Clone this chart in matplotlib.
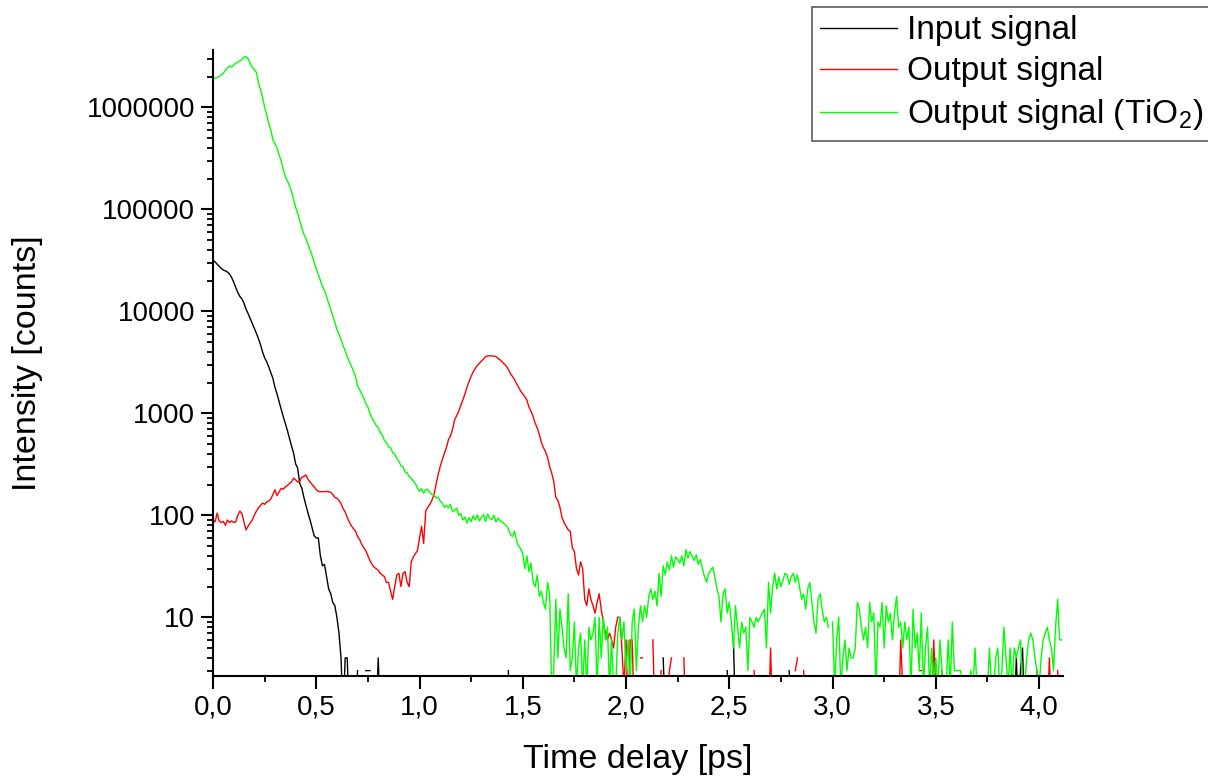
import numpy as np
import matplotlib as mpl
mpl.use('Agg')
import matplotlib.pyplot as plt
from matplotlib.ticker import FixedLocator, LogLocator, FuncFormatter, MultipleLocator, NullFormatter

plt.rcParams['font.family'] = ['Liberation Sans', 'DejaVu Sans']
plt.rcParams['mathtext.default'] = 'regular'

# sample step of the delay scan (ps)
step = 0.01

# Output signal (TiO2), counts, one row = 0.1 ps
green = [
    1900000, 1930000, 1960000, 2010000, 2080000, 2160000, 2300000, 2450000, 2540000, 2480000,
    2600000, 2700000, 2780000, 2850000, 2950000, 3100000, 3150000, 3000000, 2700000, 2450000,
    2350000, 2200000, 1750000, 1500000, 1250000, 1000000, 850000, 690000, 600000, 480000,
    440000, 400000, 340000, 300000, 245000, 210000, 190000, 170000, 150000, 125000,
    105000, 92000, 78000, 66000, 57000, 52000, 45000, 40000, 35000, 30000,
    26000, 23000, 20000, 17500, 16000, 14000, 12000, 10500, 9000, 7800,
    6600, 6000, 5300, 4600, 4100, 3600, 3200, 2900, 2600, 2300,
    1850, 1700, 1550, 1400, 1250, 1150, 1000, 900, 830, 760,
    720, 650, 610, 540, 520, 470, 460, 410, 400, 360,
    340, 305, 300, 265, 262, 238, 232, 215, 205, 185,
    172, 182, 165, 178, 180, 168, 160, 158, 148, 150,
    138, 132, 120, 125, 118, 128, 108, 112, 118, 100,
    104, 90, 96, 84, 95, 87, 99, 90, 101, 88,
    96, 102, 87, 103, 93, 91, 100, 86, 94, 88,
    86, 83, 79, 74, 65, 62, 70, 56, 50, 47,
    42, 30, 40, 28, 34, 22, 20, 26, 16, 18,
    14, 12, 22, 17, 2, 3, 15, 4, 12, 8,
    5, 4, 17, 3, 4, 9, 2, 5, 7, 2,
    6, 2, 8, 6, 7, 10, 2, 10, 4, 10,
    6, 8, 2, 6, 2, 2, 7, 10, 6, 9,
    3, 6, 2, 9, 12, 3, 8, 13, 9, 13,
    10, 16, 19, 15, 18, 13, 27, 16, 32, 26,
    35, 29, 40, 31, 39, 37, 34, 40, 32, 46,
    38, 44, 40, 36, 41, 33, 37, 30, 25, 22,
    27, 29, 31, 25, 19, 16, 9, 17, 19, 11,
    14, 9, 5, 13, 8, 5, 9, 7, 8, 3,
    10, 9, 8, 10, 9, 10, 11, 12, 5, 22,
    11, 20, 27, 19, 25, 20, 23, 27, 26, 21,
    25, 27, 22, 26, 20, 15, 17, 12, 19, 22,
    14, 9, 7, 15, 17, 12, 9, 10, 8, 0,
    9, 2, 6, 10, 2, 4, 6, 3, 5, 4,
    4, 5, 14, 12, 8, 6, 8, 5, 14, 9,
    11, 2, 9, 8, 14, 5, 13, 9, 11, 6,
    11, 16, 8, 9, 5, 9, 6, 8, 2, 12,
    5, 7, 3, 11, 2, 5, 8, 2, 5, 2,
    4, 2, 6, 3, 2, 2, 6, 2, 9, 3,
    3, 3, 3, 2, 2, 2, 2, 3, 2, 5,
    2, 2, 2, 2, 2, 2, 5, 2, 2, 4,
    5, 2, 3, 8, 4, 2, 5, 2, 5, 4,
    5, 6, 2, 2, 4, 6, 7, 6, 4, 3,
    2, 4, 6, 7, 8, 6, 5, 3, 8, 15,
    6, 6,
]

# Output signal, counts
red = [
    90, 86, 105, 88, 85, 87, 80, 90, 85, 88,
    85, 86, 100, 110, 104, 86, 72, 78, 84, 90,
    100, 110, 118, 125, 132, 128, 135, 138, 145, 160,
    178, 156, 170, 184, 180, 190, 196, 205, 212, 231,
    222, 212, 216, 236, 240, 249, 226, 212, 200, 190,
    178, 172, 170, 171, 170, 172, 170, 168, 160, 150,
    147, 140, 130, 116, 108, 95, 86, 79, 74, 70,
    62, 58, 52, 48, 45, 40, 36, 33, 31, 30,
    29, 27, 26, 25, 22, 22, 18, 15, 20, 26,
    27, 20, 27, 28, 22, 20, 35, 39, 42, 45,
    60, 78, 53, 110, 120, 128, 140, 160, 200, 250,
    300, 350, 400, 460, 550, 600, 700, 860, 950, 1050,
    1200, 1350, 1550, 1800, 2050, 2300, 2550, 2750, 2950, 3100,
    3250, 3400, 3600, 3650, 3660, 3650, 3640, 3600, 3450, 3350,
    3200, 3050, 2900, 2700, 2450, 2300, 2150, 1950, 1800, 1650,
    1550, 1450, 1350, 1150, 1050, 930, 800, 720, 620, 520,
    460, 420, 370, 300, 260, 215, 150, 140, 120, 95,
    85, 78, 72, 70, 48, 44, 30, 26, 35, 30,
    15, 13, 19, 15, 13, 11, 14, 17, 12, 9,
    7, 6, 7, 6, 5, 8, 10, 10, 5, 2,
    6, 1, 6, 6, 1, 0, 0, 4, 4, 0,
    0, 0, 0, 6, 1, 0, 1, 3, 0, 0,
    2, 3, 4, 0, 0, 0, 0, 0, 4, 1,
    0, 0, 0, 0, 0, 0, 0, 0, 0, 0,
    0, 0, 0, 0, 0, 0, 0, 0, 0, 0,
    0, 0, 0, 0, 0, 0, 0, 0, 0, 0,
    0, 0, 3, 1, 0, 0, 0, 0, 0, 1,
    5, 1, 0, 0, 0, 0, 0, 0, 0, 0,
    0, 0, 3, 4, 0, 0, 3, 1, 0, 0,
    0, 0, 0, 0, 0, 0, 0, 0, 0, 0,
    0, 0, 0, 0, 0, 0, 0, 0, 0, 0,
    0, 0, 0, 0, 0, 0, 0, 0, 0, 0,
    0, 0, 0, 0, 0, 0, 0, 0, 0, 0,
    0, 0, 1, 6, 2, 0, 0, 0, 0, 0,
    0, 0, 3, 3, 0, 0, 0, 0, 1, 6,
    2, 0, 0, 3, 1, 0, 0, 0, 0, 0,
    0, 0, 0, 0, 0, 0, 0, 0, 0, 0,
    0, 0, 0, 0, 0, 0, 0, 0, 0, 0,
    0, 0, 0, 0, 0, 0, 0, 0, 0, 0,
    0, 0, 0, 0, 0, 0, 0, 0, 1, 3,
    0, 0, 0, 0, 1, 4, 1, 0, 0, 3,
    1, 0,
]

# Input signal, counts
black = [
    31800, 30500, 29000, 27500, 26300, 25400, 24900, 24300, 23200, 21500,
    19300, 17200, 15300, 14000, 13200, 12000, 10500, 9500, 8500, 7600,
    6800, 6100, 5400, 4700, 4000, 3500, 3200, 2850, 2500, 2200,
    1800, 1550, 1300, 1100, 930, 800, 680, 570, 480, 410,
    320, 290, 205, 185, 150, 125, 105, 90, 75, 63,
    60, 60, 40, 32, 33, 25, 19, 17, 14, 13,
    10, 7, 4, 1, 4, 4, 1, 0, 0, 1,
    3, 0, 0, 0, 3, 3, 3, 0, 0, 1,
    4, 1, 0, 0, 0, 0, 0, 0, 0, 0,
    0, 0, 0, 0, 0, 0, 0, 0, 0, 0,
    0, 0, 0, 0, 0, 0, 0, 0, 0, 0,
    0, 0, 0, 0, 0, 0, 0, 0, 0, 0,
    0, 0, 0, 0, 0, 0, 0, 0, 0, 0,
    0, 0, 0, 0, 0, 0, 0, 0, 0, 0,
    0, 0, 0, 3, 1, 0, 0, 0, 0, 0,
    0, 0, 0, 0, 0, 0, 0, 0, 0, 0,
    0, 0, 0, 0, 0, 0, 0, 0, 0, 0,
    0, 0, 0, 0, 0, 0, 0, 0, 0, 0,
    0, 0, 0, 0, 0, 0, 0, 0, 0, 0,
    0, 0, 0, 0, 0, 0, 0, 0, 0, 0,
    0, 0, 0, 0, 0, 0, 0, 0, 0, 0,
    0, 0, 0, 0, 0, 0, 0, 0, 4, 1,
    0, 0, 0, 0, 0, 0, 0, 0, 0, 0,
    0, 0, 0, 0, 0, 0, 0, 0, 0, 0,
    0, 0, 0, 0, 0, 0, 0, 0, 0, 3,
    1, 0, 6, 1, 0, 0, 0, 0, 0, 0,
    0, 0, 0, 0, 0, 0, 0, 0, 0, 0,
    0, 0, 0, 0, 0, 0, 0, 0, 0, 3,
    1, 0, 0, 0, 0, 0, 0, 0, 0, 0,
    0, 0, 0, 0, 0, 0, 0, 0, 0, 0,
    0, 0, 0, 0, 0, 0, 0, 0, 0, 0,
    0, 0, 0, 0, 0, 0, 0, 0, 0, 0,
    0, 0, 0, 0, 0, 0, 0, 0, 0, 0,
    0, 0, 0, 0, 0, 0, 0, 0, 0, 0,
    0, 0, 0, 0, 0, 0, 0, 0, 0, 0,
    0, 0, 0, 0, 0, 0, 0, 0, 0, 0,
    0, 0, 0, 0, 0, 0, 0, 0, 0, 0,
    0, 0, 0, 0, 0, 0, 0, 0, 0, 0,
    0, 0, 0, 0, 0, 0, 0, 0, 1, 4,
    1, 3, 5, 1, 0, 0, 0, 0, 0, 0,
    0, 0, 0, 0, 0, 0, 0, 0, 0, 0,
    0, 0,
]

labels = ['Input signal', 'Output signal', 'Output signal (TiO$_2$)']
colors = ['#000000', '#ff0000', '#00ff00']
y_ticks = [10, 100, 1000, 10000, 100000, 1000000]
x_ticks = [0.0, 0.5, 1.0, 1.5, 2.0, 2.5, 3.0, 3.5, 4.0]


def prep(counts):
    c = np.array(counts, dtype=float)
    t = np.arange(len(c)) * step
    # zero counts cannot be shown on the log axis -> gap
    c[c <= 0] = np.nan
    return t, c


fig = plt.figure(figsize=(12.08, 7.83), dpi=100)
ax = fig.add_axes([213 / 1208, 1 - 676 / 783, 850 / 1208, 626 / 783])

lines = []
for data, col, lab in zip([black, red, green], colors, labels):
    t, c = prep(data)
    ln, = ax.plot(t, c, color=col, lw=1.0, label=lab)
    lines.append(ln)

ax.set_yscale('log')
ax.set_xlim(0, 4.116)
ax.set_ylim(10 ** 0.4245, 10 ** 6.562)

ax.yaxis.set_major_locator(FixedLocator(y_ticks))
ax.yaxis.set_major_formatter(FuncFormatter(lambda v, p: '%d' % round(v)))
ax.yaxis.set_minor_locator(LogLocator(base=10, subs=np.arange(2, 10), numticks=20))
ax.yaxis.set_minor_formatter(NullFormatter())
ax.xaxis.set_major_locator(FixedLocator(x_ticks))
ax.xaxis.set_minor_locator(MultipleLocator(0.25))
ax.xaxis.set_major_formatter(FuncFormatter(lambda v, p: ('%.1f' % v).replace('.', ',')))

for s in ['top', 'right']:
    ax.spines[s].set_visible(False)
for s in ['left', 'bottom']:
    ax.spines[s].set_linewidth(1.5)

ax.tick_params(which='major', direction='out', length=9, width=1.5, labelsize=20, pad=4)
ax.tick_params(which='minor', direction='out', length=4.5, width=1.3)

ax.set_xlabel('Time delay [ps]', fontsize=24.5)
ax.set_ylabel('Intensity [counts]', fontsize=24.5)
ax.xaxis.set_label_coords(0.5, -0.108)
ax.yaxis.set_label_coords(-0.2, 0.5)

leg = fig.legend(handles=lines, loc='upper left', bbox_to_anchor=(812 / 1208, 1 - 7 / 783),
                 fontsize=24, frameon=True, fancybox=False, borderpad=0.25,
                 labelspacing=0.3, handlelength=2.3, handletextpad=0.3, borderaxespad=0)
leg.get_frame().set_edgecolor('#333333')
leg.get_frame().set_linewidth(1.2)

fig.savefig('out.png', dpi=100)
